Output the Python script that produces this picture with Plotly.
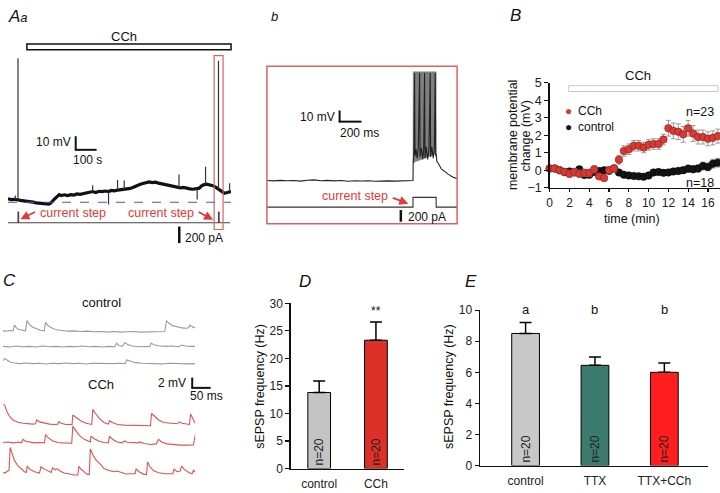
import plotly.graph_objects as go

W, H = 720, 493
FONT = "Liberation Sans, Arial, Helvetica, sans-serif"
RED_TXT = "#e03a3a"


def px(x):
    return x / W


def py(y):
    return 1 - y / H


# ---------------- Data ----------------
# Panel Aa: membrane potential (mV, relative to baseline) vs time (s)
a_trace = [(0, 2.6), (15, 2.0), (30, 2.2), (45, 1.6), (60, 1.4), (75, 1.1), (90, 0.9), (105, 0.6),
           (120, 0.1), (135, -0.4), (150, -0.8), (165, -1.2), (180, -1.6), (195, -1.4), (205, -0.5),
           (215, 1.5), (225, 2.8), (235, 4.2), (245, 5.6), (255, 4.9), (270, 5.5), (285, 5.0),
           (300, 5.6), (315, 5.3), (330, 6.1), (345, 5.8), (360, 6.5), (375, 6.8), (390, 7.4),
           (405, 7.9), (420, 7.2), (435, 8.1), (450, 7.8), (465, 8.3), (480, 7.9), (495, 8.7),
           (510, 8.4), (525, 9.0), (540, 9.3), (555, 9.1), (570, 9.8), (585, 10.2), (600, 11.0),
           (615, 12.3), (630, 13.1), (645, 13.8), (660, 14.6), (675, 15.0), (690, 14.5), (705, 14.8),
           (720, 14.1), (735, 13.6), (750, 13.0), (765, 12.4), (780, 12.0), (795, 11.3), (810, 11.0),
           (825, 10.6), (840, 10.9), (855, 10.2), (870, 9.9), (885, 9.6), (900, 9.8), (915, 10.4),
           (925, 12.0), (935, 12.8), (950, 13.3), (965, 12.9), (980, 12.2), (995, 11.0), (1005, 9.8),
           (1015, 8.4), (1025, 7.5), (1035, 6.7), (1045, 7.0), (1055, 7.6), (1067, 7.9)]
# spikes: (time s, base mV, tip mV)
a_spikes = [(35, 2.2, 5.0), (48, 1.5, 106), (405, 7.9, 12.6), (481, 7.9, -1.6), (524, 9.0, 16.4),
            (556, 9.2, 16.0), (818, 10.7, 20.5), (905, 9.8, 2.0), (945, 13.0, 26.2),
            (1007, 9.8, 104), (1060, 7.8, 14.0)]
a_step_times = [48, 1007]      # s
a_step_amp = 130               # pA
a_step_len = 3                 # s
a_duration = 1067              # s
a_cur_end = 1062               # s

# Panel b: expanded sweep (ms, mV)
b_trace = [(0, 0.3), (60, 0.0), (120, 0.5), (180, 0.1), (240, 0.4), (300, -0.2), (360, 0.6), (420, 0.9),
           (480, 0.2), (540, 0.5), (600, 0.0), (660, 0.3), (720, -0.3), (780, 0.2), (840, -0.1),
           (900, 0.2), (960, -0.3), (1020, 0.1), (1080, 0.0), (1140, -0.2), (1200, 0.1), (1260, 0.2),
           (1298, 0.3), (1300, 16), (1306, 24), (1312, 95), (1316, 22), (1325, 28), (1335, 20),
           (1345, 29), (1357, 95), (1361, 21), (1372, 29), (1385, 19), (1393, 28), (1401, 95),
           (1405, 20), (1415, 30), (1428, 19), (1440, 28), (1451, 95), (1455, 21), (1465, 30),
           (1478, 20), (1488, 29), (1496, 95), (1500, 22), (1504, 24), (1510, 17), (1520, 16),
           (1550, 10.5), (1580, 8), (1610, 6), (1650, 3.5), (1690, 2)]
b_envelope = [(1298, 16), (1300, 96), (1504, 96), (1504, 24), (1298, 16)]
b_step = (1298, 1504)          # ms
b_step_amp = 167               # pA
b_duration = 1690              # ms

# Panel B: membrane potential change (mV) vs time (min)
B_time = [0, 0.5, 1, 1.5, 2, 2.5, 3, 3.5, 4, 4.5, 5, 5.5, 6, 6.5, 7, 7.5, 8, 8.5, 9, 9.5, 10, 10.5,
          11, 11.5, 12, 12.5, 13, 13.5, 14, 14.5, 15, 15.5, 16, 16.5, 17]
B_cch = [0.1, 0.1, 0.0, -0.1, -0.2, -0.1, -0.2, -0.15, -0.15, 0.05, -0.35, -0.45, 0.0, 0.1, 0.6, 1.1,
         1.2, 1.4, 1.4, 1.3, 1.45, 1.5, 1.5, 1.75, 2.4, 2.25, 2.2, 2.05, 2.4, 2.1, 1.9, 1.9, 1.8, 1.85, 1.95]
B_cch_err = [0.15, 0.15, 0.15, 0.15, 0.2, 0.2, 0.2, 0.2, 0.2, 0.2, 0.15, 0.15, 0.2, 0.2, 0.25, 0.3,
             0.3, 0.3, 0.3, 0.3, 0.3, 0.3, 0.3, 0.3, 0.45, 0.45, 0.45, 0.45, 0.45, 0.45, 0.4, 0.4,
             0.4, 0.4, 0.4]
B_ctl = [0.1, 0.1, 0.0, -0.1, -0.07, -0.13, 0.05, -0.28, -0.26, -0.1, -0.04, 0.0, -0.04, 0.1, -0.13,
         -0.26, -0.3, -0.33, -0.35, -0.37, -0.3, -0.13, -0.1, -0.15, -0.13, -0.07, -0.04, 0.0, 0.09,
         0.06, 0.1, 0.24, 0.19, 0.37, 0.43]
B_ctl_err = [0.1, 0.1, 0.1, 0.1, 0.12, 0.12, 0.12, 0.12, 0.12, 0.12, 0.12, 0.12, 0.12, 0.12, 0.12,
             0.12, 0.12, 0.12, 0.12, 0.12, 0.15, 0.15, 0.15, 0.15, 0.15, 0.15, 0.18, 0.18, 0.2, 0.2,
             0.2, 0.22, 0.22, 0.25, 0.25]
B_series = ["CCh", "control"]

# Panel C: sEPSP traces (ms, mV)
c_control = [
    [(0, 0), (9, -0.07), (19, 0.07), (28, 0), (32, 1.2), (37, 0.67), (44, 0.27), (54, 0.07), (63, 0),
     (67, 2.13), (72, 1.47), (82, 0.8), (93, 0.4), (104, 0.13), (115, 0), (119, 1.73), (124, 1.2),
     (134, 0.67), (146, 0.27), (162, 0.07), (181, -0.07), (199, 0), (218, -0.13), (236, -0.07),
     (255, -0.2), (273, -0.13), (292, -0.27), (310, -0.13), (329, -0.27), (347, -0.2), (366, -0.13),
     (384, -0.27), (403, -0.2), (421, -0.13), (440, -0.2), (452, -0.13), (457, 2.13), (463, 1.6),
     (474, 1.07), (486, 0.8), (500, 0.6), (514, 0.53), (519, 0.67), (522, 1.2), (528, 0.8),
     (533, 0.67), (537, 0.67)],
    [(0, 0), (19, -0.13), (37, 0.07), (56, -0.07), (74, 0), (93, -0.13), (111, 0.07), (130, -0.07),
     (148, 0), (167, -0.13), (185, 0), (204, -0.07), (222, 0.07), (241, -0.07), (259, 0),
     (278, -0.13), (296, 0), (313, -0.07), (317, 0.67), (324, 0.2), (333, 0), (341, 0.8), (348, 0.4),
     (361, 0.07), (380, -0.07), (394, 0), (410, 0), (414, 0.67), (421, 0.33), (435, 0.13), (454, 0),
     (472, 0.07), (491, -0.07), (500, 0.27), (509, 0.07), (523, 0), (537, 0)],
    [(0, 0.53), (5, 1.0), (11, 0.67), (20, 0.27), (32, 0.07), (46, -0.07), (65, 0.07), (83, -0.07),
     (102, 0), (120, -0.13), (139, 0), (157, -0.07), (176, 0.07), (194, -0.07), (213, 0),
     (232, -0.13), (250, 0), (269, -0.07), (287, 0), (306, -0.07), (324, 0), (341, -0.07),
     (346, 0.67), (357, 0.4), (370, 0.13), (389, 0), (407, -0.07), (426, 0), (444, -0.13), (463, 0),
     (482, -0.07), (500, 0), (519, -0.13), (537, -0.07)],
]
c_cch = [
    [(0, 4.0), (5, 3.8), (11, 2.47), (19, 1.47), (28, 0.8), (42, 0.33), (56, 0.13), (69, 0),
     (83, -0.07), (91, 0), (94, 0.8), (102, 0.4), (116, 0.13), (130, -0.07), (144, -0.13),
     (153, -0.07), (156, 0.47), (162, 0.13), (176, -0.13), (190, -0.2), (193, -0.13), (195, 1.8),
     (202, 1.47), (208, 1.13), (218, 0.6), (232, 0.13), (243, -0.07), (248, -0.13), (251, 3.0),
     (257, 2.27), (269, 1.13), (282, 0.27), (294, -0.07), (298, 0.6), (306, 0.27), (319, -0.13),
     (338, -0.27), (357, -0.33), (375, -0.27), (394, -0.33), (412, -0.4), (415, 2.13), (422, 1.6),
     (435, 0.8), (449, 0.27), (463, 0.13), (477, 0.07), (489, 0.13), (493, 0.4), (500, 0.13),
     (514, 0), (521, -0.13), (524, 2.0), (530, 1.13), (537, 0.13)],
    [(0, 0), (14, 0.13), (28, -0.07), (42, 0.07), (52, 0), (56, 0.67), (63, 0.27), (74, 0.07),
     (88, -0.07), (102, 0), (116, -0.07), (119, 1.67), (126, 1.0), (139, 0.33), (153, 0),
     (167, -0.07), (181, -0.13), (192, -0.13), (195, 3.33), (202, 2.53), (213, 1.47), (227, 0.67),
     (239, 0.2), (244, 0.13), (246, 1.33), (255, 0.8), (269, 0.27), (282, 0), (294, -0.07),
     (298, 1.33), (306, 0.67), (319, 0.13), (333, -0.07), (339, 0.33), (347, 0.07), (366, -0.07),
     (378, -0.07), (382, 0.13), (394, -0.2), (412, -0.4), (428, -0.27), (435, 0.67), (443, 0.13),
     (458, -0.27), (477, -0.47), (495, -0.53), (514, -0.53), (532, -0.47), (539, 2.13)],
    [(0, 0.2), (5, 0.07), (17, 0.67), (20, 5.33), (26, 4.0), (32, 2.67), (42, 1.53), (51, 0.87),
     (60, 0.33), (65, 0.2), (68, 1.53), (74, 0.87), (88, 0.33), (102, 0.07), (106, 1.33), (116, 0.87),
     (130, 0.33), (135, 0.2), (138, 1.13), (146, 0.73), (152, 0.93), (159, 0.47), (171, 0.07),
     (185, -0.2), (199, -0.33), (209, -0.33), (212, 1.47), (219, 0.73), (222, 0.67), (228, 0.2),
     (236, -0.2), (241, -0.2), (244, 5.0), (252, 3.67), (261, 2.67), (273, 1.8), (282, 1.0),
     (296, 0.6), (310, 0.33), (319, 0.47), (329, 0.2), (343, -0.13), (357, -0.07), (369, -0.07),
     (372, 0.87), (380, 0.33), (394, -0.2), (401, -0.2), (404, 2.33), (411, 1.33), (421, 0.53),
     (435, 0.13), (454, -0.07), (468, -0.13), (475, -0.07), (478, 0.87), (486, 0.33), (495, 0.47),
     (499, 1.47), (506, 0.87), (519, 0.2), (528, -0.07), (532, 0.67), (537, 0.2)],
]
c_duration = 537  # ms

# Panel D
D_cats = ["control", "CCh"]
D_vals = [13.8, 23.3]
D_err = [2.1, 3.3]
D_n = ["n=20", "n=20"]
D_sig = ["", "**"]

# Panel E
E_cats = ["control", "TTX", "TTX+CCh"]
E_vals = [8.5, 6.45, 6.0]
E_err = [0.7, 0.53, 0.6]
E_n = ["n=20", "n=20", "n=20"]
E_sig = ["a", "b", "b"]

# ---------------- Styles ----------------
D_colors = ["#c4c4c4", "#dc3028"]
E_colors = ["#c8c8c8", "#3d7a6e", "#ff1e1e"]
C_CTL_COLOR = "#9a9a9a"
C_CCH_COLOR = "#e05050"
B_RED = "#d63a32"
B_BLACK = "#141414"

fig = go.Figure()
skip = dict(showlegend=False, hoverinfo="skip")

# ---- Panel Aa ----
a_t, a_v = zip(*a_trace)
fig.add_trace(go.Scatter(x=a_t, y=a_v, mode="lines", line=dict(color="#111", width=3.2),
                         xaxis="x", yaxis="y", **skip))
sx, sy = [], []
for t, b0, p in a_spikes:
    sx += [t, t, None]
    sy += [b0, p, None]
fig.add_trace(go.Scatter(x=sx, y=sy, mode="lines", line=dict(color="#333", width=1.2),
                         xaxis="x", yaxis="y", **skip))
cx, cy = [0], [0]
for t in a_step_times:
    cx += [t, t, t + a_step_len, t + a_step_len]
    cy += [0, a_step_amp, a_step_amp, 0]
cx.append(a_cur_end)
cy.append(0)
fig.add_trace(go.Scatter(x=cx, y=cy, mode="lines", line=dict(color="#444", width=1.1),
                         xaxis="x", yaxis="y2", **skip))

# ---- Panel b ----
et, ev = zip(*b_envelope)
fig.add_trace(go.Scatter(x=et, y=ev, mode="lines", fill="toself", fillcolor="#7f7f7f",
                         line=dict(color="#7f7f7f", width=0.5), xaxis="x3", yaxis="y3", **skip))
bt, bv = zip(*b_trace)
fig.add_trace(go.Scatter(x=bt, y=bv, mode="lines", line=dict(color="#222", width=1.1),
                         xaxis="x3", yaxis="y3", **skip))
bcx = [0, b_step[0], b_step[0], b_step[1], b_step[1], b_duration]
bcy = [0, 0, b_step_amp, b_step_amp, 0, 0]
fig.add_trace(go.Scatter(x=bcx, y=bcy, mode="lines", line=dict(color="#333", width=1.1),
                         xaxis="x3", yaxis="y4", **skip))

# ---- Panel B ----
fig.add_trace(go.Scatter(x=B_time, y=B_ctl, mode="markers", name=B_series[1],
                         error_y=dict(type="data", array=B_ctl_err, color="#999", thickness=1, width=2.5),
                         marker=dict(size=7.5, color=B_BLACK, line=dict(color="#000", width=0.5)),
                         xaxis="x5", yaxis="y5", cliponaxis=False, **skip))
fig.add_trace(go.Scatter(x=B_time, y=B_cch, mode="markers", name=B_series[0],
                         error_y=dict(type="data", array=B_cch_err, color="#999", thickness=1, width=2.5),
                         marker=dict(size=7.5, color=B_RED, line=dict(color="#8a1a16", width=0.6)),
                         xaxis="x5", yaxis="y5", cliponaxis=False, **skip))

# ---- Panel C ----
c_axes = ["y6", "y7", "y8", "y9", "y10", "y11"]
for i, tr in enumerate(c_control + c_cch):
    tt, vv = zip(*tr)
    col = C_CTL_COLOR if i < 3 else C_CCH_COLOR
    fig.add_trace(go.Scatter(x=tt, y=vv, mode="lines", line=dict(color=col, width=1.1),
                             xaxis="x6", yaxis=c_axes[i], **skip))

# ---- Panel D ----
err_style = dict(type="data", symmetric=False, color="black", thickness=1.5, width=6)
fig.add_trace(go.Bar(x=D_cats, y=D_vals, width=0.4, marker=dict(color=D_colors, line=dict(color="black", width=1)),
                     error_y=dict(array=D_err, arrayminus=[0] * len(D_err), **err_style),
                     text=D_n, textposition="inside", insidetextanchor="start", textangle=-90,
                     textfont=dict(size=12, color="#222", family=FONT),
                     xaxis="x7", yaxis="y12", **skip))

# ---- Panel E ----
fig.add_trace(go.Bar(x=E_cats, y=E_vals, width=0.4, marker=dict(color=E_colors, line=dict(color="black", width=1)),
                     error_y=dict(array=E_err, arrayminus=[0] * len(E_err), **err_style),
                     text=E_n, textposition="inside", insidetextanchor="start", textangle=-90,
                     textfont=dict(size=12, color="#222", family=FONT),
                     xaxis="x8", yaxis="y13", **skip))

# ---------------- Axes ----------------
hidden = dict(visible=False, showgrid=False, zeroline=False, fixedrange=True)


def c_domain(base_px, lo, hi, scale=5.0):
    return [py(base_px - lo * scale), py(base_px - hi * scale)]


layout_axes = dict(
    xaxis=dict(hidden, domain=[px(5), px(229)], range=[0, a_duration], anchor="y"),
    yaxis=dict(hidden, domain=[py(210), py(48)], range=[-6.43, 109.3], anchor="x"),
    yaxis2=dict(hidden, domain=[py(245), py(205)], range=[-270.6, 200], anchor="x"),
    xaxis3=dict(hidden, domain=[px(265), px(456)], range=[0, b_duration], anchor="y3"),
    yaxis3=dict(hidden, domain=[py(185), py(64)], range=[-5.13, 98.3], anchor="x3"),
    yaxis4=dict(hidden, domain=[py(222), py(186)], range=[-267, 333], anchor="x3"),
    xaxis6=dict(hidden, domain=[0, px(193)], range=[0, c_duration], anchor="y6"),
    yaxis6=dict(hidden, domain=c_domain(333.3, -1, 3), range=[-1, 3], anchor="x6"),
    yaxis7=dict(hidden, domain=c_domain(349.3, -1, 3), range=[-1, 3], anchor="x6"),
    yaxis8=dict(hidden, domain=c_domain(366.7, -1, 3), range=[-1, 3], anchor="x6"),
    yaxis9=dict(hidden, domain=c_domain(429, -1, 6), range=[-1, 6], anchor="x6"),
    yaxis10=dict(hidden, domain=c_domain(448.3, -1, 6), range=[-1, 6], anchor="x6"),
    yaxis11=dict(hidden, domain=c_domain(480, -1, 6), range=[-1, 6], anchor="x6"),
)

tickfont = dict(size=12, color="#222", family=FONT)
layout_axes["xaxis5"] = dict(domain=[px(549), 1], range=[0, 17.22], anchor="y5", showgrid=False,
                             zeroline=False, showline=True, linecolor="#111", linewidth=1.5,
                             ticks="outside", ticklen=3, tickcolor="#111", tickwidth=1.2,
                             tickvals=[0, 2, 4, 6, 8, 10, 12, 14, 16], tickfont=tickfont,
                             ticklabelstandoff=0, fixedrange=True)
layout_axes["yaxis5"] = dict(domain=[py(186), py(78)], range=[-1, 5], anchor="x5", showgrid=False,
                             zeroline=False, showline=True, linecolor="#111", linewidth=1.5,
                             ticks="outside", ticklen=4, tickcolor="#111", tickwidth=1.2,
                             tickvals=[-1, 0, 1, 2, 3, 4, 5], ticktext=["−1", "0", "1", "2", "3", "4", "5"],
                             tickfont=dict(tickfont, size=12.5), fixedrange=True)
layout_axes["xaxis7"] = dict(domain=[px(289), px(403)], type="category", range=[-0.5, 1.5], anchor="y12",
                             showgrid=False, zeroline=False, showline=True, linecolor="#111", linewidth=1.5,
                             ticks="", tickfont=tickfont, ticklabelstandoff=4, fixedrange=True)
layout_axes["yaxis12"] = dict(domain=[py(475), py(305)], range=[0, 30], anchor="x7", showgrid=False,
                              zeroline=False, showline=True, linecolor="#111", linewidth=1.5,
                              ticks="outside", ticklen=4, tickcolor="#111", tickwidth=1.2,
                              tickvals=[0, 5, 10, 15, 20, 25, 30], tickfont=tickfont, fixedrange=True)
layout_axes["xaxis8"] = dict(domain=[px(479), px(708)], type="category", range=[-0.657, 2.63], anchor="y13",
                             showgrid=False, zeroline=False, showline=True, linecolor="#111", linewidth=1.5,
                             ticks="", tickfont=tickfont, ticklabelstandoff=4, fixedrange=True)
layout_axes["yaxis13"] = dict(domain=[py(472), py(312)], range=[0, 10], anchor="x8", showgrid=False,
                              zeroline=False, showline=True, linecolor="#111", linewidth=1.5,
                              ticks="outside", ticklen=4, tickcolor="#111", tickwidth=1.2,
                              tickvals=[0, 2, 4, 6, 8, 10], tickfont=tickfont, fixedrange=True)

# ---------------- Shapes (decorations) ----------------
shapes = []


def pline(x0, y0, x1, y1, color="#111", width=2):
    shapes.append(dict(type="line", xref="paper", yref="paper", x0=px(x0), y0=py(y0), x1=px(x1), y1=py(y1),
                       line=dict(color=color, width=width)))


def prect(x0, y0, x1, y1, color, width=1.5, fill="rgba(0,0,0,0)"):
    shapes.append(dict(type="rect", xref="paper", yref="paper", x0=px(x0), y0=py(y0), x1=px(x1), y1=py(y1),
                       line=dict(color=color, width=width), fillcolor=fill))


# Aa: CCh bar, red box, dashed baseline, scale bars
prect(24, 38, 229, 44, "#111", 1.5, "white")
prect(212, 50, 221, 229, "#e06060", 1.2)
shapes.append(dict(type="line", xref="x", yref="y", x0=0, x1=a_duration, y0=0, y1=0,
                   line=dict(color="#3b55e0", width=1.1, dash="dash")))
pline(73, 133, 73, 147.5)
pline(72.2, 147, 94, 147)
pline(177, 226, 177, 243, width=2.5)
# b: red box and scale bars
prect(265, 61, 456, 223, "#e06060", 1.5)
pline(338, 106.5, 338, 118.5)
pline(337.2, 118, 360, 118)
pline(399.5, 209, 399.5, 221, width=2.5)
# B: CCh bar
prect(568, 81, 718, 87, "#c8c8c8", 1)
# C: scale bar
pline(190, 381.5, 190, 392.5)
pline(189.2, 392, 208.5, 392)

# ---------------- Annotations ----------------
ann = []


def text(x, y, s, size=12, color="#111", xanchor="center", yanchor="middle", angle=0, italic=False,
         align="center"):
    if italic:
        s = "<i>" + s + "</i>"
    ann.append(dict(x=px(x), y=py(y), xref="paper", yref="paper", text=s, showarrow=False,
                    xanchor=xanchor, yanchor=yanchor, textangle=angle, align=align,
                    font=dict(size=size, color=color, family=FONT)))


def arrow(x_tail, y_tail, x_head, y_head):
    ann.append(dict(x=px(x_head), y=py(y_head), xref="paper", yref="paper", text="", showarrow=True,
                    ax=x_tail - x_head, ay=y_tail - y_head, arrowhead=2, arrowsize=1, arrowwidth=1.8,
                    arrowcolor=RED_TXT, standoff=0, startstandoff=0))


# panel letters
text(3, 10, "<i>A</i><i><span style='font-size:13px'>a</span></i>", 17, xanchor="left")
text(273, 9.5, "b", 13, italic=True)
text(515, 9, "B", 17, italic=True)
text(7, 282, "C", 17, italic=True)
text(303, 283, "D", 17, italic=True)
text(470, 283, "E", 17, italic=True)

# Aa texts
text(122, 30, "CCh", 13)
text(70, 139, "10 mV", 12, xanchor="right")
text(85, 157, "100 s", 12)
text(181, 238, "200 pA", 12, xanchor="left")
text(70.7, 212.5, "current step", 12.5, RED_TXT)
text(158.3, 212.5, "current step", 12.5, RED_TXT)
arrow(33.5, 210.5, 17.5, 218.5)
arrow(195, 210.5, 211, 219)

# b texts
text(335, 113, "10 mV", 12, xanchor="right")
text(358, 130, "200 ms", 12)
text(405, 216, "200 pA", 12, xanchor="left")
text(353, 195, "current step", 12.5, RED_TXT)
arrow(390, 196, 407, 202.5)

# B texts: legend keys and labels (one block each), counts, axis titles
text(568, 115.5, "<span style='color:%s'>●</span><br><span style='color:%s'>●</span>" % (B_RED, B_BLACK), 12)
text(575, 115.5, "<br>".join(B_series), 12, xanchor="left", align="left")
text(638, 71, "CCh", 13)
text(700, 108, "n=23", 12.5)
text(700, 181, "n=18", 12.5)
text(512, 132, "membrane potential", 12.5, angle=-90)
text(525.5, 132, "change (mV)", 12.5, angle=-90)
text(632, 218, "time (min)", 12.5)

# C texts
text(99, 304, "control", 13)
text(98, 389, "CCh", 13)
text(186, 387, "2 mV", 12, xanchor="right")
text(204, 400, "50 ms", 12)

# D / E axis titles and significance
text(258, 390, "sEPSP frequency (Hz)", 12.5, angle=-90)
text(448, 391, "sEPSP frequency (Hz)", 12.5, angle=-90)
for cat, s in zip(D_cats, D_sig):
    if s:
        ann.append(dict(x=cat, y=py(313), xref="x7", yref="paper", text=s, showarrow=False,
                        font=dict(size=12, color="#111", family=FONT)))
for cat, s in zip(E_cats, E_sig):
    ann.append(dict(x=cat, y=py(311), xref="x8", yref="paper", text=s, showarrow=False,
                    font=dict(size=13, color="#111", family=FONT)))

fig.update_layout(
    width=W, height=H, autosize=False,
    margin=dict(l=0, r=0, t=0, b=0, pad=0),
    paper_bgcolor="white", plot_bgcolor="rgba(0,0,0,0)",
    font=dict(family=FONT, size=12, color="#111"),
    showlegend=False,
    shapes=shapes, annotations=ann,
    bargap=0.6,
    **layout_axes,
)

fig.write_html("out.html", config={"displayModeBar": False, "staticPlot": True},
               post_script="document.body.style.margin='0';document.body.style.padding='0';"
                           "document.body.style.overflow='hidden';")
